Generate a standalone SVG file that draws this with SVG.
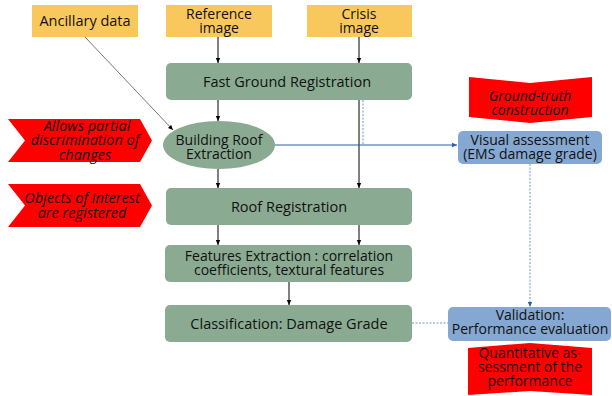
<svg xmlns="http://www.w3.org/2000/svg" width="612" height="396" viewBox="0 0 612 396">
<defs>
<style>
text{font-family:"Open Sans","Noto Sans","Liberation Sans",sans-serif;font-size:14.5px;fill:#111;text-anchor:middle}
.m{font-size:14px}
.it{font-style:italic}
.src{fill:#f9c85c}
.proc{fill:#8aab91}
.blue{fill:#85a8d3}
.red{fill:#ff0000}
.k{stroke:#000;stroke-width:1;fill:none}
.b{stroke:#2f5fa8;stroke-width:1;fill:none}
.d{stroke:#6f95c8;stroke-width:1;fill:none;stroke-dasharray:2 1.5}
</style>
<marker id="ak" markerWidth="6" markerHeight="6" refX="5" refY="3" orient="auto" markerUnits="userSpaceOnUse"><path d="M0,0.8 L5,3 L0,5.2z" fill="#000"/></marker>
<marker id="ab" markerWidth="6" markerHeight="6" refX="5" refY="3" orient="auto" markerUnits="userSpaceOnUse"><path d="M0,0.8 L5,3 L0,5.2z" fill="#2f5fa8"/></marker>
</defs>
<g id="connectors">
<line class="k" x1="218" y1="37" x2="218" y2="63" marker-end="url(#ak)"/>
<line class="k" x1="359" y1="37" x2="359" y2="63" marker-end="url(#ak)"/>
<line x1="85" y1="37" x2="173" y2="130" stroke="#555" stroke-width="0.8" marker-end="url(#ak)"/>
<line class="k" x1="218" y1="100" x2="218" y2="121" marker-end="url(#ak)"/>
<line class="k" x1="359" y1="100" x2="359" y2="188" marker-end="url(#ak)"/>
<line class="d" x1="363" y1="100" x2="363" y2="145"/>
<line class="b" x1="275" y1="145" x2="457" y2="145" marker-end="url(#ab)"/>
<line class="k" x1="218" y1="169" x2="218" y2="188" marker-end="url(#ak)"/>
<line class="k" x1="218" y1="225" x2="218" y2="245" marker-end="url(#ak)"/>
<line class="k" x1="359" y1="225" x2="359" y2="245" marker-end="url(#ak)"/>
<line class="k" x1="289" y1="282" x2="289" y2="305" marker-end="url(#ak)"/>
<line class="d" x1="530" y1="164" x2="530" y2="307" marker-end="url(#ab)"/>
<line class="d" x1="412" y1="323" x2="448" y2="323"/>
</g>
<g id="ancillary"><rect class="src" x="32" y="5" width="106" height="32"/><text x="85" y="26">Ancillary data</text></g>
<g id="reference"><rect class="src" x="166" y="5" width="106" height="32"/><text class="m" x="219" y="18.5">Reference</text><text class="m" x="219" y="32.5">image</text></g>
<g id="crisis"><rect class="src" x="307" y="5" width="105" height="32"/><text class="m" x="359" y="18.5">Crisis</text><text class="m" x="359" y="32.5">image</text></g>
<g id="fgr"><rect class="proc" x="166" y="63" width="246" height="37" rx="5"/><text x="287" y="87">Fast Ground Registration</text></g>
<g id="bre"><ellipse class="proc" cx="219" cy="145" rx="56" ry="24"/><text class="m" x="219" y="145">Building Roof</text><text class="m" x="219" y="159">Extraction</text></g>
<g id="roofreg"><rect class="proc" x="166" y="188" width="246" height="37" rx="5"/><text x="289" y="212">Roof Registration</text></g>
<g id="features"><rect class="proc" x="165" y="245" width="247" height="37" rx="5"/><text class="m" x="289" y="261">Features Extraction : correlation</text><text class="m" x="289" y="275">coefficients, textural features</text></g>
<g id="classif"><rect class="proc" x="165" y="305" width="247" height="37" rx="5"/><text x="289" y="329">Classification: Damage Grade</text></g>
<g id="visual"><rect class="blue" x="458" y="131" width="144" height="33" rx="5"/><text class="m" x="530" y="145">Visual assessment</text><text class="m" x="530" y="159">(EMS damage grade)</text></g>
<g id="validation"><rect class="blue" x="448" y="307" width="163" height="34" rx="5"/><text class="m" x="530" y="320">Validation:</text><text class="m" x="530" y="334">Performance evaluation</text></g>
<g id="groundtruth"><path class="red" d="M469,77 L530,83 L592,77 L592,117 L530,123 L469,117z"/><text class="it m" x="530" y="101">Ground-truth</text><text class="it m" x="530" y="115">construction</text></g>
<g id="quantitative"><path class="red" d="M468,348 L530,343 L592,348 L592,395 L530,391 L468,395z"/><text class="m" x="530" y="357.5">Quantitative as-</text><text class="m" x="530" y="371.5">sessment of the</text><text class="m" x="530" y="385.5">performance</text></g>
<g id="allows"><path class="red" d="M8,119 L140,119 L152,140.5 L140,162 L8,162 L25,140.5z"/><text class="it" x="87" y="130.5">Allows partial</text><text class="it" x="85" y="145">discrimination of</text><text class="it" x="85" y="159.5">changes</text></g>
<g id="objects"><path class="red" d="M8,184 L140,184 L152,205.5 L140,227 L8,227 L25,205.5z"/><text class="it" x="82" y="203">Objects of interest</text><text class="it" x="82" y="217.5">are registered</text></g>
</svg>
